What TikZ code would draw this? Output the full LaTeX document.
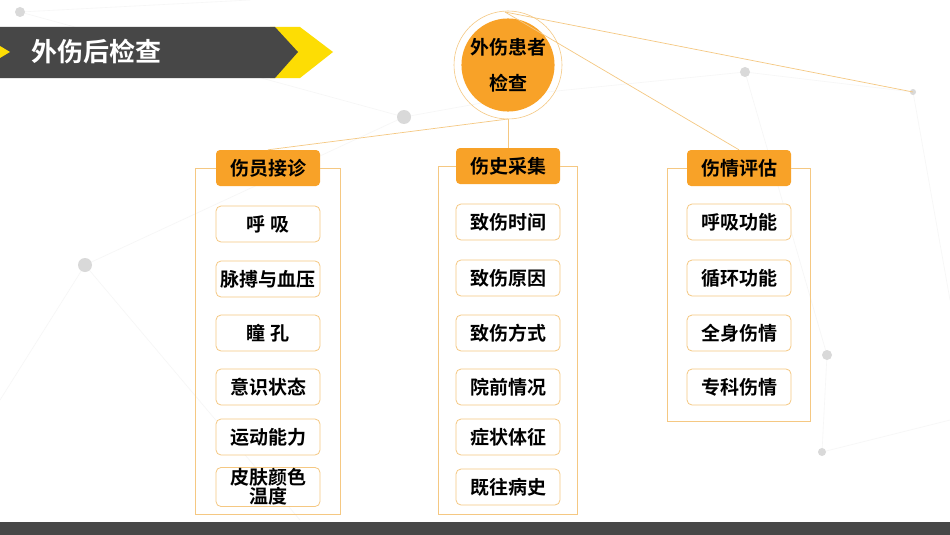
\documentclass[tikz,border=0pt]{standalone}
\usepackage{fontspec}
\setmainfont{Noto Sans CJK SC Bold}
\definecolor{org}{RGB}{248,162,40}
\definecolor{orgl}{RGB}{245,200,130}
\begin{document}
\begin{tikzpicture}[x=1pt,y=-1pt,
  hdr/.style={fill=org, draw=none, rounded corners=4pt, minimum width=104pt, minimum height=36pt, font=\fontsize{19}{20}\selectfont},
  itm/.style={fill=white, draw=orgl, line width=0.8pt, rounded corners=5pt, minimum width=104pt, minimum height=36pt, inner sep=1pt, font=\fontsize{19}{20}\selectfont, align=center},
  frm/.style={draw=orgl, line width=0.9pt},
  con/.style={draw=orgl, line width=0.7pt},
  bg/.style={draw=gray!7, line width=0.6pt},
  dot/.style={fill=gray!30, draw=none}]
\useasboundingbox (0,0) rectangle (950,535);
\fill[white] (0,0) rectangle (950,535);
% background
\foreach \a/\b in {{20,12}/{404,117},{404,117}/{85,265},{85,265}/{0,400},{404,117}/{537,93},{745,72}/{913,92},{745,72}/{827,355},{827,355}/{822,452},{913,92}/{950,300},{85,265}/{300,520},{537,93}/{745,72},{822,452}/{950,420},{20,12}/{250,0}}
  \draw[bg] (\a) -- (\b);
\foreach \p/\r in {{20,12}/5,{404,117}/7,{85,265}/7,{745,72}/5,{913,92}/3,{827,355}/5,{822,452}/4,{537,93}/5}
  \fill[dot] (\p) circle (\r);
% banner
\fill[yellow!80!orange] (270,27) -- (300,27) -- (333,52) -- (300,78) -- (270,78) -- cycle;
\fill[black!72] (0,27) -- (275,27) -- (298,52) -- (275,78) -- (0,78) -- cycle;
\fill[yellow!80!orange] (0,46) -- (10,52) -- (0,58) -- cycle;
\node[text=white, anchor=west, font=\fontsize{26}{28}\selectfont] (title) at (28,52) {外伤后检查};
% bottom bar
\fill[black!72] (0,522) rectangle (950,535);
% center circle
\draw[orgl, line width=0.6pt] (508,65) circle (54);
\node[circle, fill=org, minimum size=92pt, inner sep=0pt, align=center, font=\fontsize{19}{36}\selectfont] (root) at (508,65) {外伤患者\\检查};
% headers
\node[hdr] (h1) at (268,168) {伤员接诊};
\node[hdr] (h2) at (508,166) {伤史采集};
\node[hdr] (h3) at (739,168) {伤情评估};
\coordinate (rb) at (508,119);
\coordinate (rt) at (505,12);
\draw[con] (rb) -- (h1.north);
\draw[con] (rb) -- (h2.north);
\draw[con] (rt) -- (h3.north);
\draw[con] (rt) -- (913,92);
% frames
\draw[frm] (h1.west) -- (195,168) -- (195,514) -- (340,514) -- (340,168) -- (h1.east);
\draw[frm] (h2.west) -- (438,166) -- (438,514) -- (577,514) -- (577,166) -- (h2.east);
\draw[frm] (h3.west) -- (667,168) -- (667,421) -- (810,421) -- (810,168) -- (h3.east);
% items
\node[itm] (a1) at (268,224) {呼 吸};
\node[itm] (a2) at (268,279) {脉搏与血压};
\node[itm] (a3) at (268,333) {瞳 孔};
\node[itm] (a4) at (268,387) {意识状态};
\node[itm] (a5) at (268,437) {运动能力};
\node[itm, font=\fontsize{19}{15}\selectfont] (a6) at (268,487) {皮肤颜色\\温度};
\node[itm] (b1) at (508,222) {致伤时间};
\node[itm] (b2) at (508,278) {致伤原因};
\node[itm] (b3) at (508,333) {致伤方式};
\node[itm] (b4) at (508,387) {院前情况};
\node[itm] (b5) at (508,437) {症状体征};
\node[itm] (b6) at (508,487) {既往病史};
\node[itm] (c1) at (739,222) {呼吸功能};
\node[itm] (c2) at (739,278) {循环功能};
\node[itm] (c3) at (739,333) {全身伤情};
\node[itm] (c4) at (739,387) {专科伤情};
\end{tikzpicture}
\end{document}
